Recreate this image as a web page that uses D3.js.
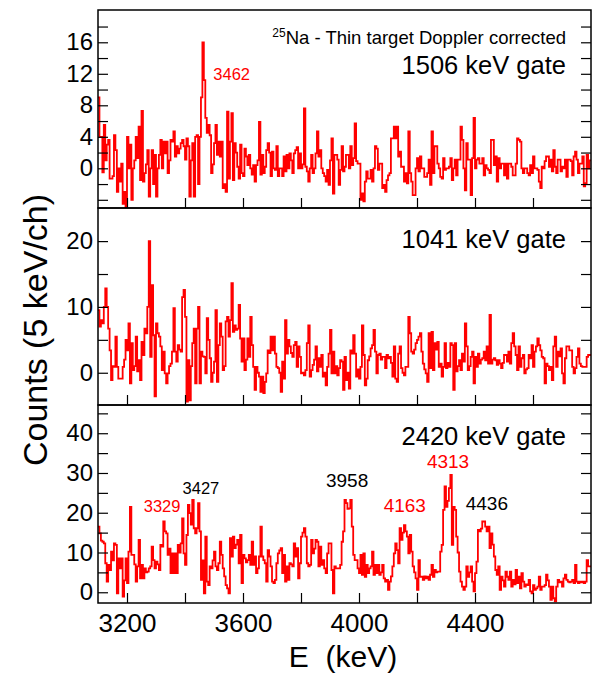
<!DOCTYPE html>
<html>
<head>
<meta charset="utf-8">
<script src="https://cdn.jsdelivr.net/npm/d3@7"></script>
<style>
  body { margin: 0; background: #fff; }
  svg { display: block; font-family: "Liberation Sans", Arial, Helvetica, sans-serif; }
  .frame { fill: none; stroke: #000; stroke-width: 1.5; }
  .tick line { stroke: #000; stroke-width: 1.2; }
  .tick text { font-size: 24px; fill: #000; }
  .spectrum { fill: none; stroke: #ff0000; stroke-width: 1.8; stroke-linejoin: miter; }
</style>
</head>
<body>
<svg width="592" height="675"></svg>
<script>
// counts per 5 keV channel, first channel starts at 3100 keV
const startEnergy = 3100;
const binWidth = 5;

const gate1506 = [
  9, 4, 4, -0.5, 5.5, 1, 3, 3.6, -1.3, -1.3,
  -1, 4.2, 2.3, -3, 0, -1.7, 0.6, -4.5, -3, -5,
  4, 0, 3, -4, 0, 1, 4, 1.3, 5.3, -1.5,
  7.3, -1.7, -0.6, 0.5, 2.3, -3.6, 0, 2.3, -2, 1.7,
  -3.6, 0, 1.7, 3.6, 0, 3.4, 1.9, 3.4, -0.6, 1,
  3.6, 3.4, 4.7, 1.5, 2.8, 1.9, 2.5, 3.2, 3.6, 2.8,
  1.1, 3.8, 2.8, -3.6, 1, 3.2, -3.6, 4, 4.2, -2,
  4, 9, 16, 11.2, 6.4, 4.5, 5.5, 4.2, -0.6, 0.5,
  3.2, 5.5, 1.7, 3.4, 1.5, 3.4, -2.5, -2, -3, 7.2,
  -1.3, 3.4, 7, -1.5, 3.2, 2, 0.2, -1.3, 3, -0.6,
  -1, 2.5, 1.5, 0.4, 1.7, 0, -0.8, 0.4, -1.7, 0.4,
  1, 5.9, -0.8, 1.7, -0.6, 0.2, 2.3, 3.2, 2, -1,
  2.1, 0, -0.2, 2.8, -1, 0, 0, -1, 1.5, -0.4,
  1.7, 0, 1.9, 1, -0.6, 1.9, 2.3, 2.7, 0, 1.9,
  0, 0.5, 7.6, 0.2, -0.4, -1.7, 0, 1.7, -0.6, 0,
  1.9, 4.7, 1.5, 2.3, 0, -0.6, -1, -1.7, -0.2, -2.1,
  1, 3.8, -3.2, 1.7, 1.7, 1.1, -2.1, -0.2, 2.8, -0.4,
  0.2, 1.7, 1.7, 0, 2.8, 0.4, 1.3, 5.7, 0.9, 0.6,
  0.6, -4, -3.2, -4.2, -1.7, -0.4, -1.3, -1.3, -0.2, -1.7,
  0, 2.8, 2.5, -0.2, 0.6, 0.6, -2.5, -2.1, -3, -1.5,
  -0.9, -0.6, 3.8, 3.8, 5.3, 3.8, 5.3, 1.5, 2.1, 0.2,
  0.2, -1.7, -0.6, -1.9, 4.7, -0.6, -1.7, -3.4, -3.4, 0,
  1.3, -0.4, 1.5, 0, 0, -1.1, -1.1, -0.6, 1.1, -2.1,
  4.7, -0.6, 2.8, 2.8, 0.6, 0, -1.1, -1.3, 1.3, -0.2,
  0, 0, 0.2, 1.3, -1.5, 0, 1.1, -0.9, 1.1, 1.1,
  5.3, 3.6, 0, -2.8, 3.2, 1.1, 1.1, -3.4, 1.3, 6.4,
  0, 1.1, 1.3, 0.6, 0.6, 1.3, -0.9, 0.4, 0, -0.2,
  -0.6, 3.6, 3.6, 0.4, 1.5, -1.7, 1.3, 0, 0.6, 0.6,
  -0.9, 0.6, -1.3, 0.6, 0.6, 0.2, -0.9, -0.9, 0.6, 3.8,
  3.6, 3.4, 0, -0.6, 0, 0, -0.6, -0.9, 0.4, -0.6,
  1.5, 0, 0, -0.2, -1.7, -2.5, 0.2, 0, 0.9, 1.5,
  1.5, 0.2, 1.1, -0.4, 2.3, 0.2, -0.6, 1.1, 1.1, -0.4,
  0.2, 0, 1.1, -1.1, 1.1, 1.1, 0.9, -0.9, 1.5, 2.1,
  1.1, -0.6, 0.6, 0.6, 1.5, -2.3, -1.9, 1.7, 0, 1
];

const gate1041 = [
  9.5, 7, 8, 7.5, 10, 12.8, 10, 6.7, 3.4, -1.1,
  1, 0.9, 5.5, 0.9, -0.9, -0.9, -0.9, 0.9, 2, 5,
  3.4, 7.5, -1.6, 4.5, 0.4, 1, 5.5, 0.2, 1.9, -1.1,
  4.7, 2.7, 6.7, 6, 10, 20, 2.4, 13.3, 5.7, -3.6,
  7.5, 6, 5.5, 4, 0.4, 3.2, -0.1, -1.6, -0.1, 1,
  1.4, 3.2, 9.8, 3.2, 1.7, 4.2, 3.5, 3.2, 11.5, 12.6,
  8.5, -4.4, 1.9, -4.2, 1, 4.5, 6.7, -1.6, 6.7, 10,
  -1.6, 3.2, 2.5, 2.4, -0.1, 8.3, 5, 2.2, -1.4, 0,
  1.7, 9.5, -1.4, 4.2, 7.5, 5.5, 0.4, 1, 7.8, 8.5,
  5.5, 8, 13.6, 6.2, 7.2, 6.5, 6.7, 10.3, 5.2, 1.7,
  5.2, 0.4, 2, 5.2, 2.4, 8.5, 4.2, 0.9, -2.6, 0.9,
  0, -0.6, -2.9, -0.6, -3.1, -1.4, -0.1, 3.4, 3, 5.5,
  3.4, 5.5, 2.9, 0.9, 0.7, 0, -2.9, 1.7, -0.9, 8,
  2.9, 5, 4, 3, 2.4, 4.2, 4.7, 0.9, 4, 2.4,
  -0.1, 0, -0.4, 0.4, 4.5, 7.2, -0.6, 0.4, 1.2, 2,
  4, 0.2, 2.2, 0.9, 2.7, -0.6, 0, -1.9, 0.9, 2.9,
  6.5, -0.1, 3.2, -0.1, 1, -0.4, 0.7, 1.9, 1.7, -2.6,
  2.4, -1.1, 0, -2.4, 3.4, 2.9, 5.7, 2.9, -0.6, 0.5,
  -0.9, 0.9, 7.2, 2.7, -1.9, -0.9, 1.9, 2.5, 3.7, 4.2,
  6.5, 3.2, -0.1, 2.7, 2.9, 2, 2.4, 2.4, 0.7, 2.7,
  2.2, 2.4, 1.5, -0.6, 4, -0.9, -1.4, 2.9, 4, 0.7,
  0, -0.4, 0.9, 0.9, 8.5, 6, 3.2, 2.9, 3.5, 4.5,
  5, 5.5, 6, 3.2, 1.4, 0.5, -0.1, -1.4, 6, 0.7,
  6.2, 0.4, 4.5, 3.5, 4.7, 0.9, 1.4, -0.6, 0.9, 4.5,
  0.7, 1.5, 0.9, 4.5, 4.2, -2.6, 4.5, 0.2, 1, 1.9,
  0.4, 2.9, 1.7, 7.5, 4, 0.4, 1, 2.4, 3.2, -1.6,
  2.4, 0.9, 2.9, 1.4, 2, 2.2, 3.2, 1.9, 4, 1.4,
  8.8, 1.4, 2, 2.2, 1.9, 1.2, 1.9, 1.4, 0.7, 1.5,
  2.7, 2.7, 1.7, 3.2, 1.4, 4.5, 6, 4, 2.7, 0.4,
  4, 0.9, 2.2, 2.7, -0.1, 0.5, 0.7, 2.7, 2.2, 4.2,
  0.9, 3.2, 4, 5.2, 4.2, 3.4, 2.4, 2.2, -1.6, 1.4,
  1, 0.4, 0.9, -1.1, 4, 5.5, 0.9, 3.2, 2.5, 3.7,
  -0.1, -1.6, 2.2, 4, 4, 3.4, 3.4, 0.9, -0.1, 0.7,
  2.4, 3.7, 1.4, 1, 0.9, 0.9, 0.9, 2.4, 2.7, 2.7
];

const gate2420 = [
  16.5, 14.8, 13, 12.7, 12.3, 7.3, 2.7, 6.9, 5.6, 10.2,
  8, 12.3, 11.9, -0.3, 8.5, 6, 8.5, -1.1, 3, 8.5,
  2.3, 10.2, 21.5, 9.4, 9.4, 7, 2.7, 6.5, 13.2, 3.5,
  6.9, 3.5, 6, 5, 5.2, 6, 6.5, 11.5, 8.1, 6,
  7.7, 7, 5.6, 11.9, 11.5, 17.8, 15.3, 14.8, 9.4, 11,
  4.8, 9.8, 4.8, 9.8, 4.8, 11.9, 10, 12.3, 18.6, 9.8,
  6.9, 14.4, 22, 19.9, 17, 23.2, 16.1, 14.8, 16.1, 22.4,
  15.3, 3.1, 8, -0.3, 14, 2.7, 1.8, 6.5, 6, 8,
  10.2, 6.5, 5.6, 7.3, 12.7, 9.4, 6, 4, 1.8, 1,
  -0.3, 13.6, 9, 14, 11.1, 12, 13.2, 7.3, 14.4, 2.3,
  9.4, 8.5, 7.5, 8.1, 9.4, 6.9, 12.7, 6.9, 9, 4.8,
  6, 9, 16.5, 9, 8.1, 7.3, 2.7, 10.6, 9, 6.5,
  2.7, 2.3, 3.1, 7.3, 9.8, 10.5, 11.1, 4.8, 9.4, 2.7,
  6.5, 3.1, 7.3, 7, 6.5, 12.3, 9, 11.1, 3.5, 7.3,
  14, 15, 16.1, 14, 7.3, 6.5, 6.9, 13.2, 9.8, 11,
  13.2, 12.7, 6.5, 11.5, 6.9, 8.1, 6, 4.8, 9.8, 12.3,
  12.3, 5.6, -0.3, 6.5, 6, 6, 6, 6.9, 12.7, 15.3,
  23.2, 22.4, 21, 21.1, 23.2, 16.5, 9.4, 8.1, 8.1, 6,
  4.8, 9.4, 4.4, 9.8, 3.9, 6.9, 4.8, 6, 6.5, 10.2,
  4.4, 6.9, 4.8, 6.9, 4.4, 5, 6.9, 3.5, 2.7, 3.1,
  0.6, 2.7, 4, 6.5, 9.8, 12.3, 10.6, 7.3, 16.1, 13.2,
  15, 16.9, 15.3, 14, 9.8, 14.4, 10.2, 6.5, 5, 3.5,
  0.6, 8.1, 3.9, 3.9, 3.1, 4, 3.5, 3.9, 3.1, 4.4,
  6.9, 3.9, 5.6, 5, 5.2, 5.2, 10.2, 11.9, 20.7, 26.6,
  21.5, 23, 26.2, 29.5, 11.9, 21.5, 20.7, 14, 10, 5.2,
  2.7, 1.4, 0.6, 1.4, 6.5, 3.9, 5, 6.5, 2.7, 0.2,
  4.8, 7.7, 15.7, 15.3, 16, 17.8, 17.8, 16.5, 15.3, 16.5,
  11.1, 14.8, 12, 9, 5.6, 4.4, 6.5, 0.6, 3.9, 3,
  1.4, 5.2, 3.9, 3.1, 5.2, 1.4, 3.1, 2, 5.6, 2.3,
  3.9, 1, 4.8, 2.7, 1.4, 2, 1.8, 3.1, 0.2, -0.3,
  1.8, 0.6, 1, 1.4, 3.9, 0.6, 1.4, 1.4, 1.8, 4.4,
  3, 1.4, -1.9, 1.4, -1.5, -2.3, 1.4, 3.1, 2.5, 2.7,
  1.4, 3.5, 4.4, 3.1, 2.7, 2.5, 2.7, 3.1, 2.3, 6.9,
  2.7, 2.3, 2.7, 2.5, 2.7, 2.3, 2.7, 8.1, 6.5, 6.5
];

const energyTicks = [3200, 3400, 3600, 3800, 4000, 4200, 4400, 4600];
const energyLabels = [3200, 3600, 4000, 4400];

const svg = d3.select('svg');
const width = +svg.attr('width');
const height = +svg.attr('height');

svg.append('rect').attr('width', width).attr('height', height).attr('fill', '#fff');

const xScale = d3.scaleLinear()
    .domain([3100, 4800])
    .range([98, 591]);

const panels = [
    {
        counts: gate1506, gate: '1506 keV gate', domain: [-5.04, 20.1], top: 10, bottom: 208,
        ticks: d3.range(-4, 20, 2), labelStep: 4, gateY: 74,
        peaks: [{text: '3462', e: 3561, c: 11.2, color: '#ff0000', size: 16.5}]
    },
    {
        counts: gate1041, gate: '1041 keV gate', domain: [-4.9, 25.03], top: 208, bottom: 405,
        ticks: d3.range(0, 25, 5), labelStep: 10, gateY: 248,
        peaks: []
    },
    {
        counts: gate2420, gate: '2420 keV gate', domain: [-2.7, 47.1], top: 405, bottom: 603,
        ticks: d3.range(0, 50, 5), labelStep: 10, gateY: 445,
        peaks: [
            {text: '3329', e: 3321, c: 20.2, color: '#ff0000', size: 16.5},
            {text: '3427', e: 3455, c: 24.7, color: '#000', size: 16.5},
            {text: '3958', e: 3959, c: 26.6, color: '#000', size: 19},
            {text: '4163', e: 4158, c: 20.3, color: '#ff0000', size: 19},
            {text: '4313', e: 4307, c: 31.2, color: '#ff0000', size: 19},
            {text: '4436', e: 4441, c: 20.7, color: '#000', size: 19}
        ]
    }
];

const [x0, x1] = xScale.range();

panels.forEach((p, i) => {
    const yScale = d3.scaleLinear()
        .domain(p.domain)
        .range([p.bottom, p.top]);

    const g = svg.append('g');
    const clipId = `clip-${i}`;

    g.append('clipPath').attr('id', clipId)
        .append('rect')
        .attr('x', x0).attr('y', p.top)
        .attr('width', x1 - x0).attr('height', p.bottom - p.top);

    // histogram outline
    const points = p.counts.map((c, k) => [startEnergy + k * binWidth, c]);
    points.push([startEnergy + p.counts.length * binWidth, p.counts[p.counts.length - 1]]);

    const stepLine = d3.line()
        .x(d => xScale(d[0]))
        .y(d => yScale(d[1]))
        .curve(d3.curveStepAfter);

    g.append('path')
        .attr('class', 'spectrum')
        .attr('clip-path', `url(#${clipId})`)
        .attr('d', stepLine(points));

    const yAxisG = g.append('g')
        .attr('transform', `translate(${x0},0)`)
        .call(d3.axisLeft(yScale)
            .tickValues(p.ticks)
            .tickSize(-10)
            .tickPadding(5)
            .tickFormat(d => (d >= 0 && d % p.labelStep === 0) ? d : ''));
    yAxisG.select('.domain').remove();

    const yAxisRightG = g.append('g')
        .attr('transform', `translate(${x1},0)`)
        .call(d3.axisRight(yScale)
            .tickValues(p.ticks)
            .tickSize(-10)
            .tickFormat(''));
    yAxisRightG.select('.domain').remove();

    const isLast = i === panels.length - 1;
    const xAxisG = g.append('g')
        .attr('transform', `translate(0,${p.bottom})`)
        .call(d3.axisBottom(xScale)
            .tickValues(energyTicks)
            .tickSize(-10)
            .tickPadding(11)
            .tickFormat(d => (isLast && energyLabels.includes(d)) ? d : ''));
    xAxisG.select('.domain').remove();
    xAxisG.selectAll('.tick text').style('font-size', '26px');

    g.append('rect')
        .attr('class', 'frame')
        .attr('x', x0).attr('y', p.top)
        .attr('width', x1 - x0).attr('height', p.bottom - p.top);

    g.append('text')
        .attr('x', 566)
        .attr('y', p.gateY)
        .attr('text-anchor', 'end')
        .attr('font-size', 25.5)
        .text(p.gate);

    p.peaks.forEach(pk => {
        g.append('text')
            .attr('x', xScale(pk.e))
            .attr('y', yScale(pk.c))
            .attr('text-anchor', 'middle')
            .attr('font-size', pk.size)
            .attr('fill', pk.color)
            .text(pk.text);
    });
});

// header of the top panel
const header = svg.append('text')
    .attr('x', 566)
    .attr('y', 44)
    .attr('text-anchor', 'end')
    .attr('font-size', 18.5);
header.append('tspan').attr('font-size', 12).attr('dy', -7).text('25');
header.append('tspan').attr('dy', 7).text('Na - Thin target Doppler corrected');

svg.append('text')
    .attr('x', 343)
    .attr('y', 667)
    .attr('text-anchor', 'middle')
    .attr('font-size', 30)
    .text('E\u00a0\u00a0(keV)');

svg.append('text')
    .attr('transform', 'translate(47,330) rotate(-90)')
    .attr('text-anchor', 'middle')
    .attr('font-size', 34)
    .text('Counts (5 keV/ch)');
</script>
</body>
</html>
